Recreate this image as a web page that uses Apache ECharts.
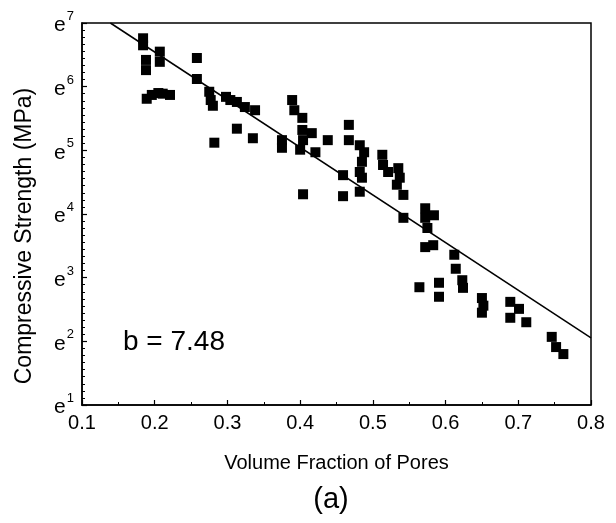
<!DOCTYPE html>
<html>
<head>
<meta charset="utf-8">
<script src="https://cdn.jsdelivr.net/npm/echarts@6/dist/echarts.min.js"></script>
<style>
html,body{margin:0;padding:0;background:#fff;}
#chart{width:616px;height:523px;}
</style>
</head>
<body>
<div id="chart"></div>
<script>
// Volume fraction of pores (x) and ln of compressive strength (exponent of e, MPa)
const poreFraction = [
  0.184, 0.184, 0.188, 0.188, 0.207, 0.207, 0.189, 0.196, 0.205, 0.211, 0.221,
  0.258, 0.258, 0.275, 0.277, 0.280, 0.282, 0.298, 0.304, 0.313, 0.324, 0.338,
  0.313, 0.335, 0.375, 0.375, 0.389, 0.392, 0.403, 0.403, 0.404, 0.400, 0.416,
  0.421, 0.438, 0.467, 0.467, 0.459, 0.459, 0.404, 0.482, 0.488, 0.485, 0.482,
  0.485, 0.482, 0.513, 0.514, 0.521, 0.535, 0.537, 0.533, 0.542, 0.542, 0.572,
  0.572, 0.575, 0.584, 0.572, 0.583, 0.612, 0.614, 0.623, 0.624, 0.564, 0.591,
  0.591, 0.650, 0.652, 0.650, 0.689, 0.701, 0.689, 0.711, 0.746, 0.752, 0.762
];
const lnStrength = [
  6.76, 6.65, 6.42, 6.26, 6.55, 6.39, 5.81, 5.87, 5.90, 5.89, 5.87,
  6.45, 6.12, 5.92, 5.79, 5.70, 5.12, 5.84, 5.79, 5.76, 5.68, 5.63,
  5.34, 5.19, 5.16, 5.04, 5.79, 5.63, 5.51, 5.32, 5.16, 5.01, 5.27,
  4.97, 5.16, 5.40, 5.16, 4.61, 4.28, 4.31, 5.08, 4.97, 4.82, 4.66,
  4.57, 4.35, 4.93, 4.77, 4.66, 4.72, 4.57, 4.46, 4.30, 3.94, 4.09,
  3.94, 3.78, 3.98, 3.48, 3.51, 3.36, 3.14, 2.96, 2.84, 2.85, 2.92,
  2.70, 2.68, 2.56, 2.45, 2.62, 2.51, 2.37, 2.30, 2.07, 1.91, 1.80
];
// Linear fit in ln space: ln(sigma) = fitIntercept - fitSlope * p
const fitSlope = 7.48;
const fitIntercept = 8.04;
const fitXEnd = 0.8;
const xTicks = [0.1, 0.2, 0.3, 0.4, 0.5, 0.6, 0.7, 0.8];
const yTickExponents = [1, 2, 3, 4, 5, 6, 7];
const xTitle = 'Volume Fraction of Pores';
const yTitle = 'Compressive Strength (MPa)';
const annotation = 'b = ' + fitSlope.toFixed(2);
const panelLabel = '(a)';

const FONT = '"Liberation Sans", Arial, sans-serif';
const points = poreFraction.map((x, i) => [x, lnStrength[i]]);
const yMax = yTickExponents[yTickExponents.length - 1];
const fitXStart = (fitIntercept - yMax) / fitSlope;
const fitLine = [
  [fitXStart, fitIntercept - fitSlope * fitXStart],
  [fitXEnd, fitIntercept - fitSlope * fitXEnd]
];

const chart = echarts.init(document.getElementById('chart'), null, {renderer: 'canvas'});
chart.setOption({
  animation: false,
  backgroundColor: '#fff',
  grid: {left: 82, right: 25, top: 23, bottom: 118, containLabel: false,
    show: true, borderColor: '#000', borderWidth: 1.5, backgroundColor: 'transparent'},
  xAxis: {
    type: 'value', min: xTicks[0], max: xTicks[xTicks.length - 1], interval: 0.1,
    name: xTitle, nameLocation: 'middle', nameGap: 48,
    nameTextStyle: {fontFamily: FONT, fontSize: 20, color: '#000'},
    axisLine: {show: true, lineStyle: {color: '#000', width: 1.5}},
    axisTick: {show: true, inside: true, length: 5, lineStyle: {color: '#000', width: 1.2}},
    minorTick: {show: true, splitNumber: 2, length: 3, lineStyle: {color: '#000', width: 1}},
    splitLine: {show: false},
    axisLabel: {fontFamily: FONT, fontSize: 20, color: '#000', margin: 8,
      formatter: v => v.toFixed(1)}
  },
  yAxis: {
    type: 'value', min: yTickExponents[0], max: yMax, interval: 1,
    axisLine: {show: true, lineStyle: {color: '#000', width: 1.5}},
    axisTick: {show: true, inside: true, length: 5, lineStyle: {color: '#000', width: 1.2}},
    minorTick: {show: true, splitNumber: 9, length: 3, lineStyle: {color: '#000', width: 1}},
    splitLine: {show: false},
    axisLabel: {
      margin: 8, color: '#000',
      formatter: v => '{e|e}{s|' + Math.round(v) + '}',
      rich: {
        e: {fontFamily: FONT, fontSize: 21, color: '#000', lineHeight: 26, verticalAlign: 'bottom'},
        s: {fontFamily: FONT, fontSize: 13, color: '#000', lineHeight: 14, verticalAlign: 'top', padding: [0, 0, 0, 1]}
      }
    }
  },
  series: [
    {
      type: 'scatter', data: points, symbol: 'rect', symbolSize: 10,
      itemStyle: {color: '#000', opacity: 1}, z: 3
    },
    {
      type: 'line', data: fitLine, symbol: 'none', clip: true,
      lineStyle: {color: '#000', width: 1.5}, z: 2
    }
  ],
  graphic: [
    {type: 'text', x: 25, y: 236, rotation: Math.PI / 2,
      style: {text: yTitle, font: '23px ' + FONT, fill: '#000', align: 'center', verticalAlign: 'middle'}},
    {type: 'text', left: 123, top: 328,
      style: {text: annotation, font: '28px ' + FONT, fill: '#000'}},
    {type: 'text', x: 331, y: 500,
      style: {text: panelLabel, font: '29px ' + FONT, fill: '#000', align: 'center', verticalAlign: 'middle'}}
  ]
});
</script>
</body>
</html>
